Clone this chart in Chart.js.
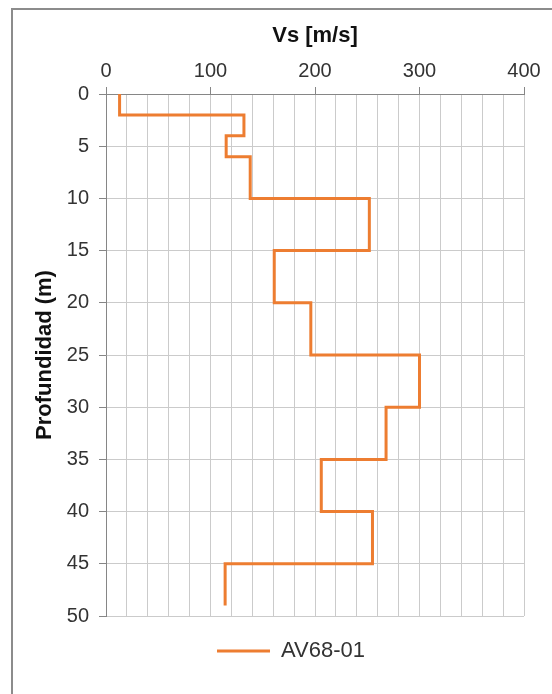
<!DOCTYPE html>
<html>
<head>
<meta charset="utf-8">
<script src="https://cdn.jsdelivr.net/npm/chart.js@4"></script>
<style>
  body { margin: 0; background: #fff; overflow: hidden; }
  #frame { position: absolute; left: 11px; top: 8px; width: 600px; height: 720px; border: 2px solid #8c8c8c; box-sizing: border-box; }
  #wrap { position: absolute; left: 0; top: 0; width: 552px; height: 694px; }
</style>
</head>
<body>
<div id="frame"></div>
<div id="wrap"><canvas id="vsChart" width="552" height="694"></canvas></div>
<script>
// layers of the Vs profile (depth in m, velocity in m/s)
const layerTop = [0, 2, 4, 6, 10, 15, 20, 25, 30, 35, 40, 45];
const layerBottom = [2, 4, 6, 10, 15, 20, 25, 30, 35, 40, 45, 49];
const vsValues = [13, 132, 115, 138, 252, 161, 196, 300, 268, 206, 255, 114];
const seriesName = "AV68-01";

const profile = [];
vsValues.forEach((v, i) => {
  profile.push({ x: v, y: layerTop[i] });
  profile.push({ x: v, y: layerBottom[i] });
});

const axisColor = "#868686";
const gridColor = "#cbcbcb";
const fontFamily = "'Liberation Sans', Arial, sans-serif";

const ctx = document.getElementById("vsChart").getContext("2d");
new Chart(ctx, {
  type: "scatter",
  data: {
    datasets: [{
      label: seriesName,
      data: profile,
      showLine: true,
      borderColor: "#ED7D31",
      backgroundColor: "#ED7D31",
      borderWidth: 3,
      pointRadius: 0,
      pointHoverRadius: 0,
      tension: 0,
      clip: false
    }]
  },
  options: {
    responsive: false,
    animation: false,
    layout: { padding: { left: 58, right: 28, top: 0, bottom: 22 } },
    scales: {
      x: {
        position: "top",
        min: 0,
        max: 400,
        afterFit: s => { s.height = 94; },
        border: { color: axisColor, width: 1 },
        grid: {
          color: gridColor,
          lineWidth: 1,
          tickLength: 7,
          tickColor: c => (c.tick && c.tick.value % 100 === 0) ? axisColor : "rgba(0,0,0,0)"
        },
        ticks: {
          stepSize: 20,
          autoSkip: false,
          maxRotation: 0,
          padding: 4,
          color: "#333333",
          font: { family: fontFamily, size: 20 },
          callback: v => v % 100 === 0 ? v : ""
        },
        title: {
          display: true,
          text: "Vs [m/s]",
          color: "#111111",
          font: { family: fontFamily, size: 22, weight: "bold" },
          padding: { top: 23, bottom: 0 }
        }
      },
      y: {
        reverse: true,
        min: 0,
        max: 50,
        afterFit: s => { s.width = 48; },
        border: { color: axisColor, width: 1 },
        grid: {
          color: gridColor,
          lineWidth: 1,
          tickLength: 7,
          tickColor: axisColor
        },
        ticks: {
          stepSize: 5,
          padding: 10,
          color: "#333333",
          font: { family: fontFamily, size: 20 }
        },
        title: {
          display: true,
          text: "Profundidad (m)",
          color: "#111111",
          font: { family: fontFamily, size: 22, weight: "bold" },
          padding: { top: -26, bottom: 0 }
        }
      }
    },
    plugins: {
      legend: {
        position: "bottom",
        labels: {
          usePointStyle: true,
          pointStyle: "line",
          pointStyleWidth: 53,
          padding: 24,
          color: "#333333",
          font: { family: fontFamily, size: 22 }
        }
      },
      tooltip: { enabled: false }
    }
  }
});
</script>
</body>
</html>
